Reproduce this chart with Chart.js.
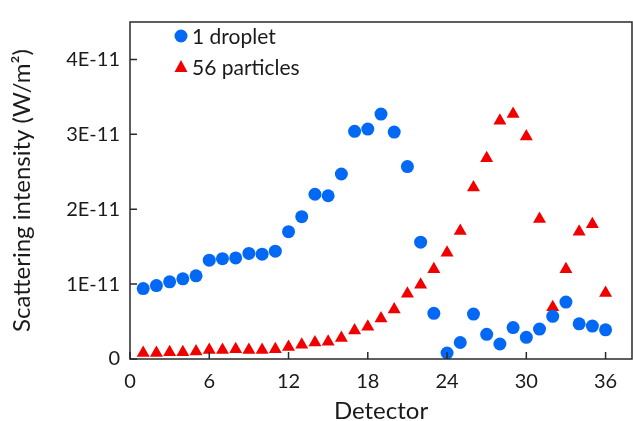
<!DOCTYPE html>
<html>
<head>
<meta charset="utf-8">
<script src="https://cdn.jsdelivr.net/npm/chart.js@4"></script>
<style>
  html, body { margin: 0; padding: 0; background: #fff; }
  #wrap { width: 633px; height: 421px; }
</style>
</head>
<body>
<div id="wrap"><canvas id="chart" width="633" height="421"></canvas></div>
<script>
const detectors = Array.from({ length: 36 }, (_, i) => i + 1);

// values in units of 1E-11 W/m2
const droplet = [0.94, 0.98, 1.03, 1.07, 1.11, 1.32, 1.34, 1.35, 1.41, 1.40, 1.44, 1.70,
                 1.90, 2.20, 2.18, 2.47, 3.04, 3.07, 3.27, 3.03, 2.57, 1.56, 0.61, 0.08,
                 0.22, 0.60, 0.33, 0.20, 0.42, 0.29, 0.40, 0.57, 0.76, 0.47, 0.44, 0.39];
const particles = [0.08, 0.08, 0.09, 0.09, 0.10, 0.12, 0.12, 0.13, 0.12, 0.12, 0.13, 0.16,
                   0.19, 0.22, 0.23, 0.28, 0.38, 0.43, 0.54, 0.66, 0.87, 0.99, 1.20, 1.42,
                   1.71, 2.29, 2.68, 3.18, 3.27, 2.97, 1.87, 0.69, 1.20, 1.70, 1.80, 0.88];

const xTicks = [0, 6, 12, 18, 24, 30, 36];
const yTicks = [0, 1e-11, 2e-11, 3e-11, 4e-11];
const yLabels = ['0', '1E-11', '2E-11', '3E-11', '4E-11'];

const BLUE = '#0369F4';
const RED = '#F20000';
const AXIS = '#2a2a2a';
const TEXT = '#1a1a1a';
const FONT = "Lato, 'Open Sans', sans-serif";

const toPoints = arr => arr.map((v, i) => ({ x: detectors[i], y: v * 1e-11 }));

// inside tick marks, frame and legend drawn over the chart area
const decor = {
    id: 'decor',
    afterDraw(chart) {
        const { ctx, chartArea: a, scales } = chart;
        ctx.save();
        ctx.strokeStyle = AXIS;
        ctx.lineWidth = 1.5;
        ctx.strokeRect(a.left, a.top, a.right - a.left, a.bottom - a.top);
        ctx.beginPath();
        xTicks.forEach(v => {
            const x = scales.x.getPixelForValue(v);
            ctx.moveTo(x, a.bottom);
            ctx.lineTo(x, a.bottom - 7);
        });
        yTicks.forEach(v => {
            const y = scales.y.getPixelForValue(v);
            ctx.moveTo(a.left, y);
            ctx.lineTo(a.left + 7, y);
        });
        ctx.stroke();

        // legend
        const items = [
            { text: '1 droplet', color: BLUE, style: 'circle', y: 36 },
            { text: '56 particles', color: RED, style: 'triangle', y: 67 }
        ];
        ctx.font = '21px ' + FONT;
        ctx.textBaseline = 'middle';
        items.forEach(it => {
            ctx.fillStyle = it.color;
            ctx.beginPath();
            if (it.style === 'circle') {
                ctx.arc(181, it.y, 6.5, 0, Math.PI * 2);
            } else {
                ctx.moveTo(181, it.y - 7);
                ctx.lineTo(187.5, it.y + 5);
                ctx.lineTo(174.5, it.y + 5);
                ctx.closePath();
            }
            ctx.fill();
            ctx.fillStyle = TEXT;
            ctx.fillText(it.text, 192, it.y + 1);
        });
        ctx.restore();
    }
};

new Chart(document.getElementById('chart'), {
    type: 'scatter',
    data: {
        datasets: [
            {
                label: '1 droplet',
                data: toPoints(droplet),
                backgroundColor: BLUE,
                borderColor: BLUE,
                pointStyle: 'circle',
                pointRadius: 6.5,
                pointBorderWidth: 0
            },
            {
                label: '56 particles',
                data: toPoints(particles),
                backgroundColor: RED,
                borderColor: RED,
                pointStyle: 'triangle',
                pointRadius: 7.5,
                pointBorderWidth: 0
            }
        ]
    },
    options: {
        responsive: false,
        animation: false,
        layout: { autoPadding: false, padding: { top: 14, right: 1, left: 8, bottom: 0 } },
        plugins: {
            legend: { display: false },
            tooltip: { enabled: false }
        },
        scales: {
            x: {
                type: 'linear',
                min: 0,
                max: 38,
                afterBuildTicks: s => { s.ticks = xTicks.map(v => ({ value: v })); },
                afterFit: s => { s.height = 62; s.paddingLeft = 0; s.paddingRight = 0; },
                grid: { display: false, drawTicks: false },
                border: { display: false },
                ticks: { color: TEXT, padding: 11, font: { family: FONT, size: 20 } },
                title: {
                    display: true,
                    text: 'Detector',
                    color: TEXT,
                    padding: { top: 0, bottom: -5 },
                    font: { family: FONT, size: 24 }
                }
            },
            y: {
                type: 'linear',
                min: 0,
                max: 4.5e-11,
                afterBuildTicks: s => { s.ticks = yTicks.map(v => ({ value: v })); },
                afterFit: s => { s.width = 122; },
                grid: { display: false, drawTicks: false },
                border: { display: false },
                ticks: {
                    color: TEXT,
                    padding: 10,
                    font: { family: FONT, size: 20 },
                    callback: v => {
                        const i = yTicks.findIndex(t => Math.abs(t - v) < 1e-15);
                        return i >= 0 ? yLabels[i] : '';
                    }
                },
                title: {
                    display: true,
                    text: 'Scattering intensity (W/m²)',
                    color: TEXT,
                    padding: { top: 0, bottom: 0 },
                    font: { family: FONT, size: 24 }
                }
            }
        }
    },
    plugins: [decor]
});
</script>
</body>
</html>
